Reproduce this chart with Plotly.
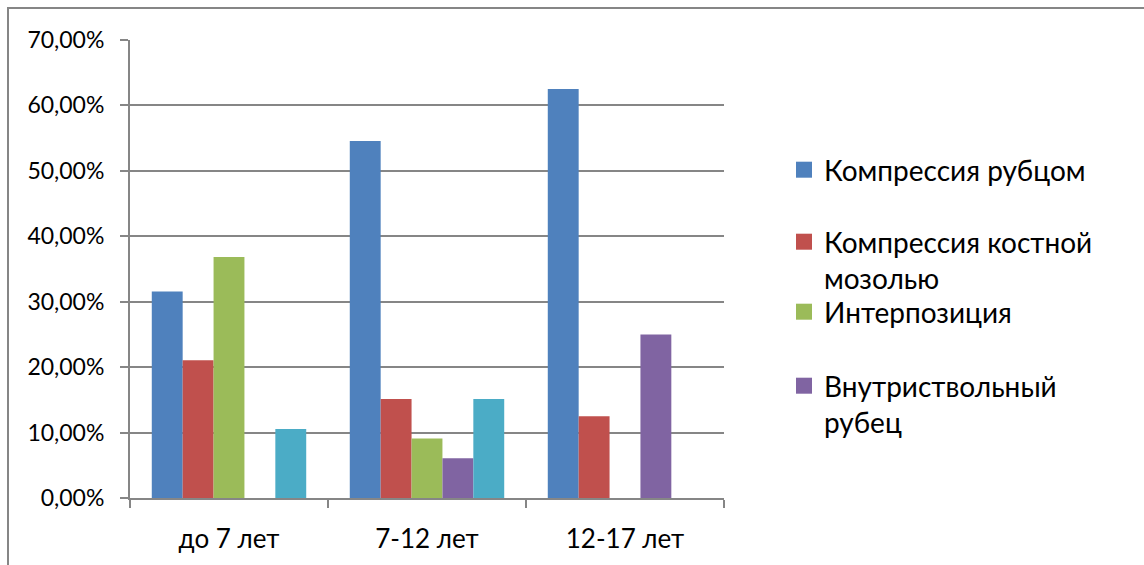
import plotly.graph_objects as go

# Age groups and share of each cause (fraction of cases in the group)
categories = ["до 7 лет", "7-12 лет", "12-17 лет"]

series_names = [
    "Компрессия рубцом",
    "Компрессия костной<br>мозолью",
    "Интерпозиция",
    "Внутриствольный<br>рубец",
    "Ряд5",
]
compression_scar = [0.3158, 0.5455, 0.625]
compression_callus = [0.2105, 0.1515, 0.125]
interposition = [0.3684, 0.0909, 0.0]
intratruncal_scar = [0.0, 0.0606, 0.25]
series5 = [0.1053, 0.1515, 0.0]

values = [compression_scar, compression_callus, interposition, intratruncal_scar, series5]
colors = ["#4F81BD", "#C0504D", "#9BBB59", "#8064A2", "#4BACC6"]

FONT = "Lato, 'Open Sans', sans-serif"

fig = go.Figure()
legend_ids = ["legend", "legend2", "legend3", "legend4", None]
for i, (name, vals, col, lg) in enumerate(zip(series_names, values, colors, legend_ids)):
    fig.add_trace(
        go.Bar(
            x=categories,
            y=vals,
            name=name,
            legendgroup=f"s{i}",
            showlegend=False,
            marker=dict(color=col, line=dict(width=0)),
        )
    )
    if lg is not None:
        # legend key: a larger square swatch than the default bar symbol
        fig.add_trace(
            go.Scatter(
                x=[None],
                y=[None],
                mode="markers",
                name=name,
                legendgroup=f"s{i}",
                legend=lg,
                marker=dict(symbol="square", size=17, color=col, line=dict(width=0)),
                hoverinfo="skip",
            )
        )

W, H = 1144, 565
L, R, T, B = 130, 420, 40, 67
pw, ph = W - L - R, H - T - B


def px_x(x):
    return (x - L) / pw


def px_y(y):
    return (H - B - y) / ph


legend_style = dict(
    font=dict(family=FONT, size=28, color="#000000"),
    bgcolor="rgba(0,0,0,0)",
    xanchor="left",
    yanchor="top",
    valign="top",
    itemclick=False,
    tracegroupgap=0,
)
legend_tops = [145, 217, 287, 361]
legends = {}
for key, top in zip(["legend", "legend2", "legend3", "legend4"], legend_tops):
    legends[key] = dict(legend_style, x=px_x(784), y=px_y(top))

fig.update_layout(
    width=W,
    height=H,
    margin=dict(l=L, r=R, t=T, b=B),
    paper_bgcolor="white",
    plot_bgcolor="white",
    barmode="group",
    bargap=0.22,
    bargroupgap=0,
    separators=", ",
    font=dict(family=FONT, size=24, color="#000000"),
    **legends,
    xaxis=dict(
        automargin=False,
        showline=True,
        linecolor="#868686",
        linewidth=2,
        ticks="outside",
        tickson="boundaries",
        ticklen=8,
        tickwidth=2,
        tickcolor="#868686",
        showgrid=False,
        ticklabelstandoff=17,
        tickfont=dict(family=FONT, size=26, color="#000000"),
    ),
    yaxis=dict(
        automargin=False,
        range=[0, 0.7],
        dtick=0.1,
        tickformat=".2%",
        showline=True,
        linecolor="#868686",
        linewidth=2,
        ticks="outside",
        ticklen=8,
        tickwidth=2,
        tickcolor="#868686",
        showgrid=True,
        gridcolor="#868686",
        gridwidth=2,
        zeroline=False,
        ticklabelstandoff=11,
        tickfont=dict(family=FONT, size=23, color="#000000"),
    ),
    shapes=[
        dict(
            type="rect",
            xref="paper",
            yref="paper",
            x0=px_x(8),
            x1=px_x(W + 20),
            y0=px_y(H + 20),
            y1=px_y(8),
            line=dict(color="#868686", width=2),
            fillcolor="rgba(0,0,0,0)",
            layer="below",
        )
    ],
)

fig.write_html("out.html")
